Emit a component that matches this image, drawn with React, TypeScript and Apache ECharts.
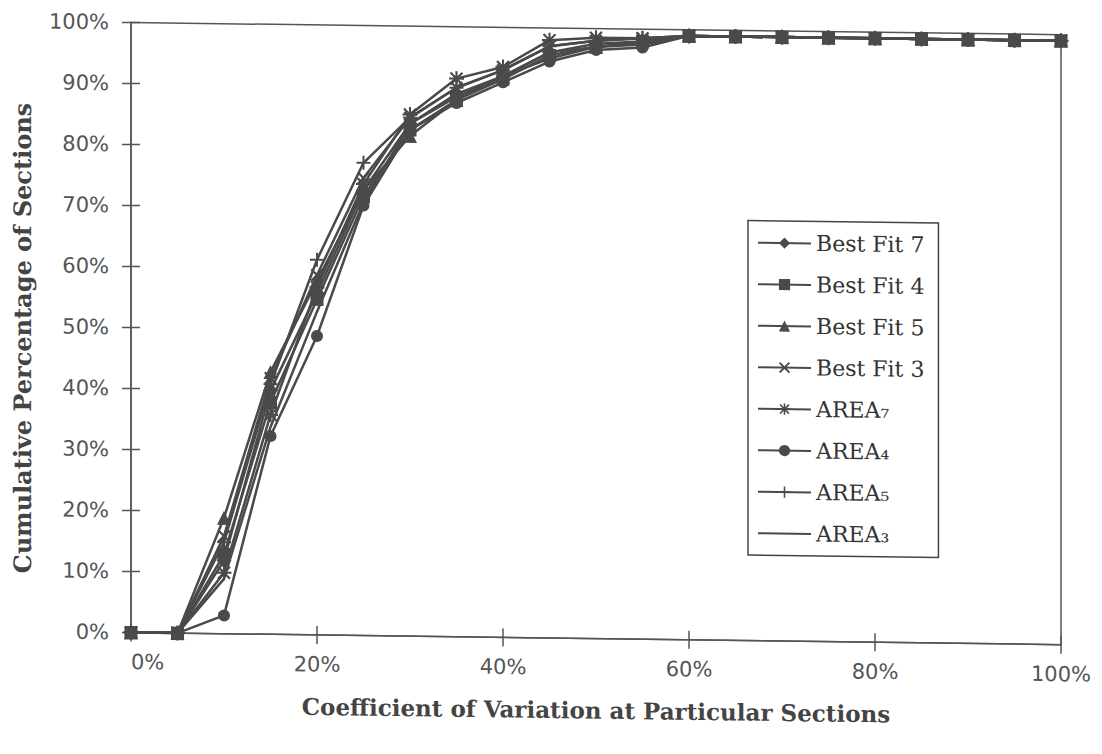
import React, { useEffect, useRef } from "react";
import * as echarts from "echarts";

// Coefficient of variation (%) at which each cumulative point is taken
const cvValues = [0, 5, 10, 15, 20, 25, 30, 35, 40, 45, 50, 55, 60, 65, 70, 75, 80, 85, 90, 95, 100];

// Cumulative percentage of sections (%)
const bestFit7 = [0, 0, 12, 40, 56, 73, 84, 89, 92, 96, 97.5, 98, 99, 99, 99, 99, 99, 99, 99, 99, 99];
const bestFit4 = [0, 0, 13, 38, 55, 72, 83, 88, 91.5, 95.5, 97, 98, 99, 99, 99, 99, 99, 99, 99, 99, 99];
const bestFit5 = [0, 0, 19, 43, 58, 73, 82, 88, 92, 96, 97, 98, 99, 99, 99, 99, 99, 99, 99, 99, 99];
const bestFit3 = [0, 0, 16, 42, 59, 75, 85, 90, 93, 97, 98, 98.5, 99, 99, 99, 99, 99, 99, 99, 99, 99];
const area7 = [0, 0, 10, 36, 57, 74, 85.5, 91.5, 93.5, 98, 98.5, 98.5, 99, 99, 99, 99, 99, 99, 99, 99, 99];
const area4 = [0, 0, 3, 32.5, 49, 70.5, 83, 87.5, 91, 94.5, 96.5, 97, 99, 99, 99, 99, 99, 99, 99, 99, 99];
const area5 = [0, 0, 15, 41, 61.5, 77.5, 85, 90, 93, 97, 98, 98.5, 99, 99, 99, 99, 99, 99, 99, 99, 99];
const area3 = [0, 0, 9, 34, 53, 71, 84, 88.5, 92, 95, 97, 97.5, 99, 99, 99, 99, 99, 99, 99, 99, 99];

const seriesNames = ["Best Fit 7", "Best Fit 4", "Best Fit 5", "Best Fit 3", "AREA₇", "AREA₄", "AREA₅", "AREA₃"];
const seriesValues = [bestFit7, bestFit4, bestFit5, bestFit3, area7, area4, area5, area3];

const xTitle = "Coefficient of Variation at Particular Sections";
const yTitle = "Cumulative Percentage of Sections";

const CROSS =
  "path://M1.2,0 L5,3.8 L8.8,0 L10,1.2 L6.2,5 L10,8.8 L8.8,10 L5,6.2 L1.2,10 L0,8.8 L3.8,5 L0,1.2 Z";
const PLUS = "path://M4.3,0 H5.7 V4.3 H10 V5.7 H5.7 V10 H4.3 V5.7 H0 V4.3 H4.3 Z";
const STAR =
  "path://M4.3,0 H5.7 V10 H4.3 Z M0,4.3 H10 V5.7 H0 Z M0.5,1.5 L1.5,0.5 L9.5,8.5 L8.5,9.5 Z M8.5,0.5 L9.5,1.5 L1.5,9.5 L0.5,8.5 Z";

const symbols = ["diamond", "rect", "triangle", CROSS, STAR, "circle", PLUS, "none"];
const symbolSizes = [15, 13, 14, 13, 15, 12, 14, 0];

const INK = "#4a4a4a";

export default function App() {
  const ref = useRef<HTMLDivElement>(null);

  useEffect(() => {
    if (!ref.current) return;
    const chart = echarts.init(ref.current, undefined, { renderer: "svg" });

    const gridPos = { left: 131, right: 41, top: 28, bottom: 116 };

    const series = seriesNames.map((name, i) => ({
      name,
      type: "line",
      xAxisIndex: 0,
      yAxisIndex: 0,
      data: cvValues.map((x, j) => [x, seriesValues[i][j]]),
      symbol: symbols[i],
      symbolSize: symbolSizes[i],
      showSymbol: symbols[i] !== "none",
      lineStyle: { color: INK, width: 2.5 },
      itemStyle: { color: INK, borderColor: INK, borderWidth: 0 },
      emphasis: { disabled: true },
    }));

    const legendData = seriesNames.map((name, i) =>
      symbols[i] === "none" ? { name, itemStyle: { opacity: 0 } } : { name }
    );

    chart.setOption({
      animation: false,
      backgroundColor: "#ffffff",
      grid: [
        { ...gridPos, show: true, borderColor: "#555", borderWidth: 1.5, backgroundColor: "transparent" },
        { ...gridPos, show: false },
      ],
      xAxis: [
        {
          type: "value",
          gridIndex: 0,
          min: 0,
          max: 100,
          interval: 20,
          axisLine: { show: true, lineStyle: { color: "#555", width: 1.5 } },
          axisTick: { show: true, length: 9, lineStyle: { color: "#555", width: 1.5 } },
          axisLabel: {
            formatter: "{value}%",
            color: "#555",
            fontFamily: "DejaVu Sans",
            fontSize: 21,
            margin: 19,
            alignMinLabel: "left",
          },
          splitLine: { show: false },
          name: xTitle,
          nameLocation: "middle",
          nameGap: 60,
          nameTextStyle: { fontFamily: "DejaVu Serif", fontWeight: "bold", fontSize: 23, color: "#444" },
        },
        {
          type: "value",
          gridIndex: 1,
          min: 0,
          max: 100,
          interval: 20,
          axisLine: { show: false },
          axisTick: { show: true, inside: true, length: 9, lineStyle: { color: "#555", width: 1.5 } },
          axisLabel: { show: false },
          splitLine: { show: false },
        },
      ],
      yAxis: [
        {
          type: "value",
          gridIndex: 0,
          min: 0,
          max: 100,
          interval: 10,
          axisLine: { show: true, lineStyle: { color: "#555", width: 1.5 } },
          axisTick: { show: true, length: 9, lineStyle: { color: "#555", width: 1.5 } },
          axisLabel: {
            formatter: "{value}%",
            color: "#555",
            fontFamily: "DejaVu Sans",
            fontSize: 21,
            margin: 22,
          },
          splitLine: { show: false },
          name: yTitle,
          nameLocation: "middle",
          nameGap: 97,
          nameRotate: 90,
          nameTextStyle: {
            fontFamily: "DejaVu Serif",
            fontWeight: "bold",
            fontSize: 24,
            color: "#444",
            padding: [0, 24, 0, 0],
          },
        },
        {
          type: "value",
          gridIndex: 1,
          min: 0,
          max: 100,
          interval: 10,
          axisLine: { show: false },
          axisTick: { show: true, inside: true, length: 9, lineStyle: { color: "#555", width: 1.5 } },
          axisLabel: { show: false },
          splitLine: { show: false },
        },
      ],
      legend: {
        data: legendData,
        orient: "vertical",
        left: 748,
        top: 218,
        padding: [8, 14, 8, 9],
        itemGap: 13.5,
        itemWidth: 53,
        itemHeight: 14,
        itemTextGap: 8,
        borderColor: "#444",
        borderWidth: 1.5,
        backgroundColor: "#fff",
        selectedMode: false,
        textStyle: { fontFamily: "DejaVu Serif", fontSize: 22, color: "#333", lineHeight: 28 },
      },
      series,
    });

    return () => chart.dispose();
  }, []);

  return (
    <div
      style={{
        position: "fixed",
        left: 0,
        top: 0,
        width: 1102,
        height: 754,
        background: "#fff",
      }}
    >
      <div
        ref={ref}
        style={{ width: 1102, height: 754, transform: "skewY(0.75deg)", transformOrigin: "50% 50%" }}
      />
    </div>
  );
}
